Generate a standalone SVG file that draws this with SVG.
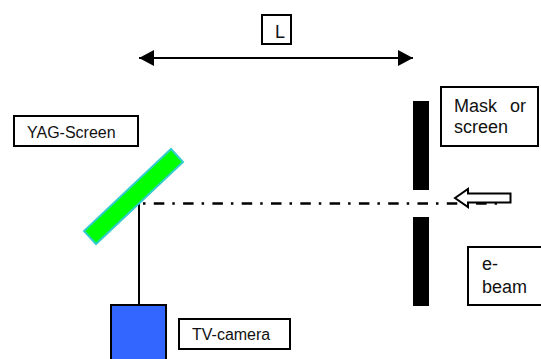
<svg xmlns="http://www.w3.org/2000/svg" width="541" height="359" viewBox="0 0 541 359">
<style>
text{font-family:"Liberation Sans",Arial,sans-serif;fill:#111}
.l{fill:#fff;stroke:#000;stroke-width:2}
.t16{font-size:16px}
.t18{font-size:18px}
.bar{fill:#000}
.c{fill:none;stroke:#000;stroke-width:2}
</style>
<defs>
<marker id="head" markerUnits="userSpaceOnUse" markerWidth="16" markerHeight="16" refX="15" refY="8" orient="auto-start-reverse"><path d="M0 0L15 8L0 16Z" fill="#000"/></marker>
</defs>
<rect width="541" height="359" fill="#fff"/>
<g id="connectors">
<line class="c" x1="139" y1="58" x2="413" y2="58" marker-start="url(#head)" marker-end="url(#head)"/>
<line class="c" x1="139" y1="203" x2="139" y2="305"/>
<line class="c" x1="143" y1="203.5" x2="498" y2="203.5" stroke-width="2.5" style="stroke-width:2.5" stroke-dasharray="2.5 8.3 10.5 8"/>
</g>
<g id="yag-mirror"><polygon points="171,149 183,162 96,244 84,231" fill="#00ff00" stroke="#33cccc" stroke-width="2"/></g>
<g id="mask-bars"><rect class="bar" x="413" y="101" width="16" height="89"/><rect class="bar" x="413" y="217" width="16" height="89"/></g>
<g id="beam-arrow"><polygon points="455,198 468,189 468,193.5 510.5,193.5 510.5,202.5 468,202.5 468,207" fill="#fff" stroke="#000" stroke-width="2"/></g>
<g id="tv-camera-body"><rect x="111" y="305" width="55" height="60" fill="#3366ff" stroke="#000" stroke-width="2"/></g>
<g id="label-l"><rect class="l" x="262" y="15" width="29" height="29"/><text class="t18" x="275" y="38">L</text></g>
<g id="label-yag"><rect class="l" x="14" y="116" width="124" height="30"/><text class="t16" x="27" y="138">YAG-Screen</text></g>
<g id="label-mask"><rect class="l" x="441" y="87" width="97" height="59"/><text class="t18" x="454" y="112" word-spacing="8">Mask or</text><text class="t18" x="454" y="133">screen</text></g>
<g id="label-ebeam"><rect class="l" x="468" y="247" width="75" height="58"/><text class="t18" x="482" y="270">e-</text><text class="t18" x="482" y="293">beam</text></g>
<g id="label-tv"><rect class="l" x="179" y="319" width="111" height="30"/><text class="t16" x="192" y="340">TV-camera</text></g>
</svg>
